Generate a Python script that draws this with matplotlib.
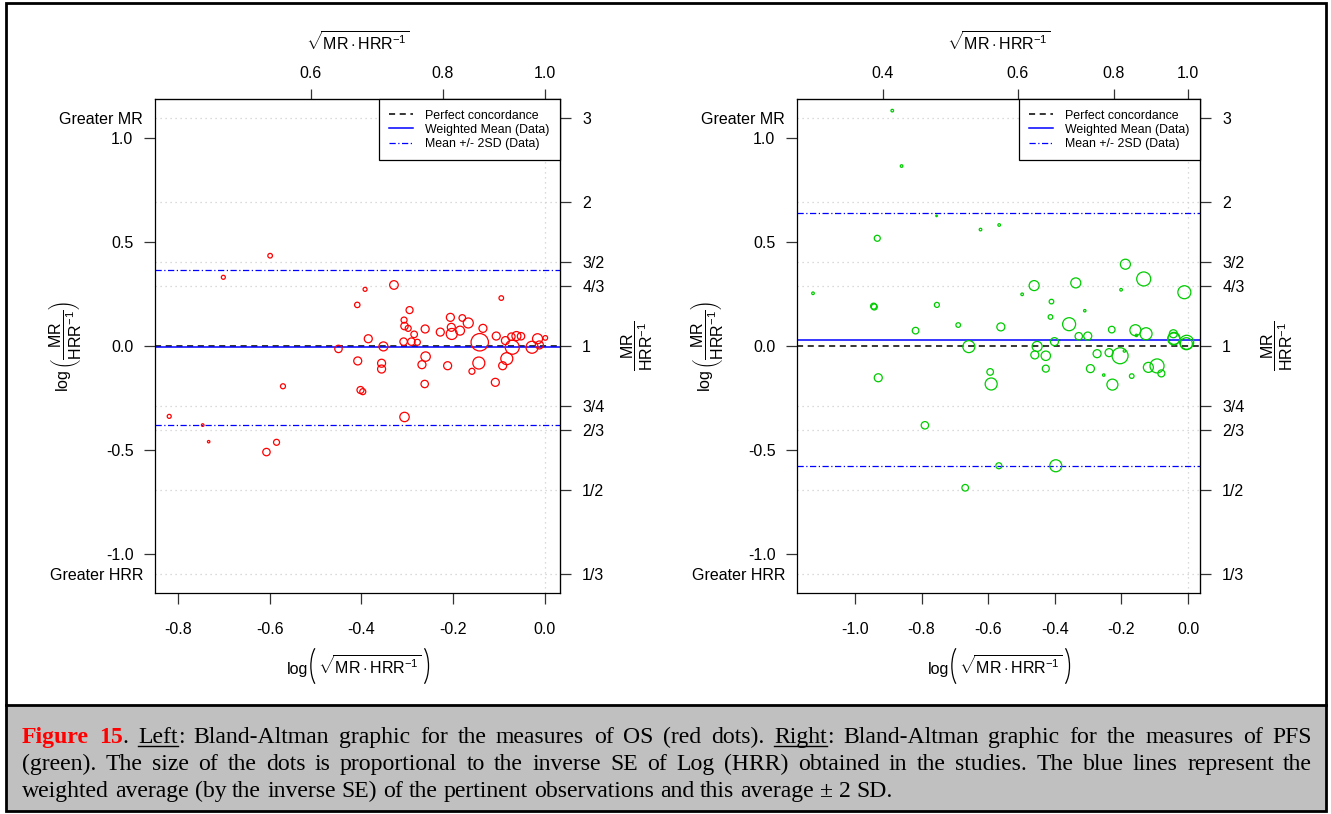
import numpy as np
import matplotlib
matplotlib.use('Agg')
import matplotlib.pyplot as plt
from matplotlib.lines import Line2D
from matplotlib.patches import Rectangle, Arc
from matplotlib.transforms import IdentityTransform

plt.rcParams['font.family'] = ['Liberation Sans', 'DejaVu Sans']
plt.rcParams['mathtext.fontset'] = 'custom'
plt.rcParams['mathtext.rm'] = 'Liberation Sans'
plt.rcParams['mathtext.it'] = 'Liberation Sans:italic'
plt.rcParams['mathtext.bf'] = 'Liberation Sans:bold'
plt.rcParams['axes.unicode_minus'] = False

W, H = 1331, 814

# ---- OS data (left panel): log(sqrt(MR*HRR^-1)), log(MR/HRR^-1), dot weight (~1/SE)
os_x = [-0.599, -0.701, -0.329, -0.392, -0.409, -0.095, -0.295, -0.206, -0.180, -0.167,
        -0.307, -0.306, -0.298, -0.261, -0.228, -0.204, -0.203, -0.185, -0.135, -0.285,
        -0.106, -0.385, -0.308, -0.291, -0.278, -0.142, -0.086, -0.073, -0.062, -0.052,
        -0.016, 0.001, -0.071, -0.028, -0.012, -0.352, -0.450, -0.260, -0.408, -0.356,
        -0.356, -0.268, -0.212, -0.144, -0.083, -0.092, -0.159, -0.571, -0.262, -0.108,
        -0.402, -0.397, -0.306, -0.819, -0.746, -0.733, -0.585, -0.607]
os_y = [0.435, 0.331, 0.294, 0.273, 0.198, 0.231, 0.173, 0.138, 0.135, 0.111,
        0.125, 0.096, 0.085, 0.082, 0.067, 0.090, 0.058, 0.074, 0.085, 0.056,
        0.048, 0.035, 0.021, 0.021, 0.018, 0.018, 0.026, 0.045, 0.048, 0.047,
        0.035, 0.039, -0.006, -0.006, 0.005, -0.002, -0.014, -0.051, -0.072, -0.083,
        -0.111, -0.090, -0.095, -0.082, -0.061, -0.095, -0.122, -0.194, -0.183, -0.175,
        -0.212, -0.220, -0.342, -0.339, -0.381, -0.461, -0.464, -0.511]
os_w = [2.3, 2.0, 4.3, 2.0, 2.7, 2.3, 3.5, 4.0, 3.3, 5.0,
        3.0, 3.7, 3.0, 4.0, 4.0, 4.0, 5.5, 4.5, 4.0, 3.3,
        4.0, 4.0, 3.7, 3.7, 3.0, 8.7, 4.0, 3.7, 4.5, 3.7,
        5.0, 2.3, 7.0, 6.0, 4.0, 4.5, 3.7, 4.7, 4.0, 4.0,
        4.0, 4.0, 4.0, 6.0, 6.0, 4.0, 3.0, 2.5, 3.7, 4.0,
        3.5, 3.0, 4.7, 2.0, 1.3, 1.2, 3.0, 3.7]
os_mean, os_lo, os_hi = -0.006, -0.381, 0.368

# ---- PFS data (right panel)
pfs_x = [-0.888, -0.860, -0.755, -0.623, -0.567, -0.933, -1.126, -0.942, -0.944, -0.754,
         -0.462, -0.337, -0.188, -0.133, -0.011, -0.498, -0.201, -0.410, -0.310, -0.413,
         -0.690, -0.818, -0.562, -0.357, -0.328, -0.301, -0.229, -0.158, -0.126, -0.044,
         -0.042, -0.004, -0.658, -0.453, -0.401, -0.460, -0.427, -0.427, -0.930, -0.594,
         -0.591, -0.273, -0.237, -0.204, -0.293, -0.253, -0.227, -0.169, -0.119, -0.093,
         -0.080, -0.191, -0.043, -0.005, -0.790, -0.568, -0.397, -0.669, -0.155]
pfs_y = [1.134, 0.867, 0.627, 0.561, 0.583, 0.519, 0.254, 0.188, 0.192, 0.198,
         0.291, 0.304, 0.394, 0.323, 0.259, 0.249, 0.271, 0.214, 0.170, 0.140,
         0.101, 0.074, 0.092, 0.105, 0.047, 0.048, 0.079, 0.076, 0.059, 0.059,
         0.037, 0.018, -0.003, -0.002, 0.021, -0.043, -0.047, -0.109, -0.153, -0.125,
         -0.183, -0.037, -0.032, -0.047, -0.109, -0.140, -0.186, -0.145, -0.103, -0.096,
         -0.132, -0.024, 0.034, 0.011, -0.382, -0.577, -0.577, -0.683, 0.051]
pfs_w = [1.3, 1.3, 0.8, 1.3, 1.3, 3.0, 1.3, 3.0, 3.0, 2.5,
         5.0, 5.0, 5.0, 7.0, 6.5, 1.3, 1.3, 2.3, 1.2, 2.3,
         2.3, 3.3, 4.0, 6.5, 3.7, 4.0, 3.3, 5.5, 6.0, 4.0,
         6.0, 7.0, 6.0, 5.0, 4.0, 4.0, 4.7, 3.5, 4.0, 3.3,
         6.0, 4.0, 4.0, 8.0, 4.0, 1.2, 5.5, 2.3, 5.0, 7.0,
         3.5, 1.2, 6.0, 6.0, 3.7, 3.0, 6.0, 3.3, 1.2]
pfs_mean, pfs_lo, pfs_hi = 0.027, -0.578, 0.641

# ---- axis labels / ticks
ratio_vals = [3, 2, 3/2, 4/3, 1, 3/4, 2/3, 1/2, 1/3]
ratio_labels = ['3', '2', '3/2', '4/3', '1', '3/4', '2/3', '1/2', '1/3']
y_ticks = [-1.0, -0.5, 0.0, 0.5, 1.0]
os_xticks = [-0.8, -0.6, -0.4, -0.2, 0.0]
pfs_xticks = [-1.0, -0.8, -0.6, -0.4, -0.2, 0.0]
os_top = [0.6, 0.8, 1.0]
pfs_top = [0.4, 0.6, 0.8, 1.0]
legend_labels = ['Perfect concordance', 'Weighted Mean (Data)', 'Mean +/- 2SD (Data)']

ylab = r'$\log\left(\dfrac{\mathrm{MR}}{\mathrm{HRR}^{-1}}\right)$'
rlab = r'$\dfrac{\mathrm{MR}}{\mathrm{HRR}^{-1}}$'
sqlab = r'$\sqrt{\mathrm{MR}\cdot\mathrm{HRR}^{-1}}$'

fig = plt.figure(figsize=(W / 100, H / 100), dpi=100)
renderer = fig.canvas.get_renderer()


def fx(px):
    return px / W


def fy(py):
    return 1 - py / H


def log_sqrt_label(cx, base, mid):
    # log ( sqrt(...) ) with tall parentheses drawn as arcs
    t_log = fig.text(0, 0, 'log', fontsize=11.5, va='baseline', ha='left')
    t_sq = fig.text(0, 0, sqlab, fontsize=11.5, va='baseline', ha='left')
    wl = t_log.get_window_extent(renderer).width
    ws = t_sq.get_window_extent(renderer).width
    pw, gap = 7, 3
    total = wl + gap + pw + ws + pw
    x0 = cx - total / 2
    t_log.set_position((fx(x0), fy(base)))
    xp = x0 + wl + gap
    t_sq.set_position((fx(xp + pw), fy(base)))
    ypix = H - mid
    a, b = 10.5, 22.5
    fig.patches.append(Arc((xp + a, ypix), 2 * a, 2 * b, theta1=110, theta2=250,
                           transform=IdentityTransform(), color='black', lw=0.9))
    xr = xp + pw + ws
    fig.patches.append(Arc((xr + pw - a, ypix), 2 * a, 2 * b, theta1=-70, theta2=70,
                           transform=IdentityTransform(), color='black', lw=0.9))


def panel(left, right, xlim, x, y, w, color, mean, lo, hi, xticks, top_vals):
    ax = fig.add_axes([fx(left), fy(593), fx(right - left), (593 - 99) / H])
    ax.set_xlim(*xlim)
    ax.set_ylim(-1.19, 1.19)
    for v in ratio_vals:
        if v != 1:
            ax.axhline(np.log(v), color='#cfcfcf', ls=(0, (1, 3)), lw=0.9, zorder=0)
    ax.axvline(0, color='#cfcfcf', ls=(0, (1, 3)), lw=0.9, zorder=0)
    ax.axhline(0, color='black', ls=(0, (4, 3)), lw=1.1, zorder=1)
    ax.axhline(mean, color='blue', lw=1.1, zorder=1)
    dd = (0, (5, 2, 1, 2))
    ax.axhline(hi, color='blue', ls=dd, lw=0.9, zorder=1)
    ax.axhline(lo, color='blue', ls=dd, lw=0.9, zorder=1)
    ax.scatter(x, y, s=(1.44 * np.array(w)) ** 2, facecolors='none',
               edgecolors=color, linewidths=0.9, zorder=2)

    for s in ax.spines.values():
        s.set_linewidth(0.9)

    ax.set_xticks(xticks, labels=['%.1f' % v for v in xticks])
    ax.set_yticks(y_ticks, labels=['%.1f' % v for v in y_ticks])
    ax.set_yticks([-np.log(3), np.log(3)], labels=['Greater HRR', 'Greater MR'], minor=True)
    ax.tick_params(axis='x', length=8, width=0.9, color='#333333', labelsize=11.5, pad=13)
    ax.tick_params(axis='y', which='major', length=8, width=0.9, color='#333333',
                   labelsize=11.5, pad=7.5)
    ax.tick_params(axis='y', which='minor', length=0, labelsize=11.5, pad=8.5)

    top = ax.secondary_xaxis('top')
    top.set_xticks(np.log(top_vals), labels=['%.1f' % v for v in top_vals])
    top.tick_params(length=7, width=0.9, color='#333333', labelsize=11.5, pad=6)

    rgt = ax.secondary_yaxis('right')
    rgt.set_yticks(np.log(ratio_vals), labels=ratio_labels)
    rgt.tick_params(length=8, width=0.9, color='#333333', labelsize=11.5, pad=8)

    handles = [Line2D([], [], color='black', ls=(0, (4, 3)), lw=1.1),
               Line2D([], [], color='blue', lw=1.1),
               Line2D([], [], color='blue', ls=dd, lw=0.9)]
    leg = ax.legend(handles, legend_labels, loc='upper right', borderaxespad=0,
                    fancybox=False, framealpha=1, edgecolor='black', fontsize=8.9,
                    handlelength=1.9, borderpad=0.85, labelspacing=0.18, handletextpad=1.0)
    leg.get_frame().set_linewidth(0.9)

    cx = (left + right) / 2
    log_sqrt_label(cx, 674, 666)
    fig.text(fx(cx), fy(42), sqlab, ha='center', va='center', fontsize=11.5)
    fig.text(fx(left - 90), fy(346), ylab, ha='center', va='center', rotation=90, fontsize=11.5)
    fig.text(fx(right + 77), fy(346), rlab, ha='center', va='center', rotation=90, fontsize=11.5)
    return ax


panel(155, 560, (-0.85, 0.033), os_x, os_y, os_w, '#ff0000',
      os_mean, os_lo, os_hi, os_xticks, os_top)
panel(797, 1200, (-1.174, 0.036), pfs_x, pfs_y, pfs_w, '#00cc00',
      pfs_mean, pfs_lo, pfs_hi, pfs_xticks, pfs_top)

# ---- frame + caption box
fig.patches.append(Rectangle((fx(6), fy(811)), fx(1320), (811 - 705) / H,
                             transform=fig.transFigure, facecolor='#c0c0c0',
                             edgecolor='none', zorder=0))
fig.patches.append(Rectangle((fx(6), fy(811)), fx(1320), (811 - 3) / H,
                             transform=fig.transFigure, facecolor='none',
                             edgecolor='black', lw=2, zorder=5))
fig.lines.append(Line2D([fx(6), fx(1326)], [fy(705), fy(705)],
                        transform=fig.transFigure, color='black', lw=2))

caption = [
    [('Figure 15', 'red'), ('. ', 'n'), ('Left', 'u'),
     (': Bland-Altman graphic for the measures of OS (red dots). ', 'n'),
     ('Right', 'u'), (': Bland-Altman graphic for the measures of PFS', 'n')],
    [('(green). The size of the dots is proportional to the inverse SE of Log (HRR) '
      'obtained in the studies. The blue lines represent the', 'n')],
    [('weighted average (by the inverse SE) of the pertinent observations and this '
      'average \u00b1 2 SD.', 'n')],
]
cap_left, cap_right = 22, 1312
cap_base = [743, 770, 797]

probe = fig.text(0, 0, caption[2][0][0], family='Liberation Serif', fontsize=14)
cap_fs = 14 * 878 / probe.get_window_extent(renderer).width
probe.remove()


def to_words(segs):
    words = [[]]
    for txt, st in segs:
        parts = txt.split(' ')
        for i, p in enumerate(parts):
            if i > 0:
                words.append([])
            if p:
                words[-1].append((p, st))
    return [wd for wd in words if wd]


def make_text(txt, st):
    return fig.text(0, 0, txt, family='Liberation Serif', fontsize=cap_fs,
                    color='red' if st == 'red' else 'black',
                    weight='bold' if st == 'red' else 'normal', va='baseline', ha='left')


sp = make_text('x x', 'n')
sp2 = make_text('xx', 'n')
space_w = sp.get_window_extent(renderer).width - sp2.get_window_extent(renderer).width
sp.remove()
sp2.remove()

for li, segs in enumerate(caption):
    words = to_words(segs)
    arts = [[(make_text(t, st), st) for t, st in wd] for wd in words]
    widths = [[a.get_window_extent(renderer).width for a, _ in wd] for wd in arts]
    total = sum(sum(wd) for wd in widths)
    if li < len(caption) - 1:
        gap = (cap_right - cap_left - total) / (len(words) - 1)
    else:
        gap = space_w
    xpos = cap_left
    for wd, ww in zip(arts, widths):
        for (a, st), wpx in zip(wd, ww):
            a.set_position((fx(xpos), fy(cap_base[li])))
            if st == 'u':
                fig.lines.append(Line2D([fx(xpos), fx(xpos + wpx)],
                                        [fy(cap_base[li] + 3)] * 2,
                                        transform=fig.transFigure, color='black', lw=1))
            xpos += wpx
        xpos += gap

fig.savefig('out.png', dpi=100)
